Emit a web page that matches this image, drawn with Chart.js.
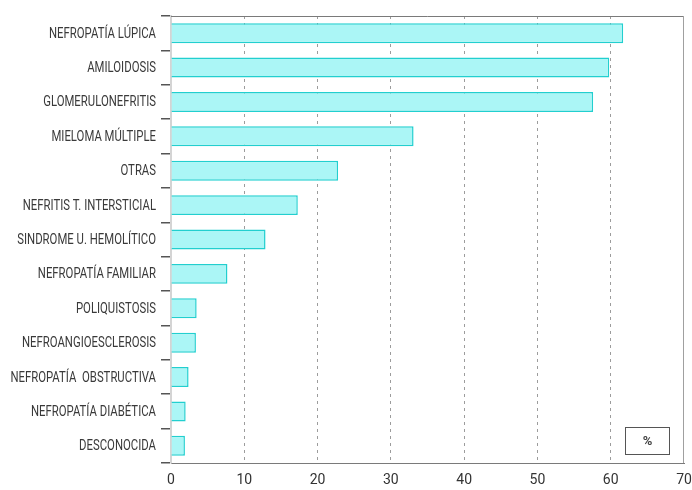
<!DOCTYPE html>
<html>
<head>
<meta charset="utf-8">
<script src="https://cdn.jsdelivr.net/npm/chart.js@4/dist/chart.umd.min.js"></script>
<style>
  html, body { margin: 0; padding: 0; background: #fff; }
  #wrap { width: 692px; height: 490px; }
</style>
</head>
<body>
<div id="wrap"><canvas id="causes-chart" width="692" height="490"></canvas></div>
<script>
// Chart data
const categories = [
  "NEFROPATÍA LÚPICA",
  "AMILOIDOSIS",
  "GLOMERULONEFRITIS",
  "MIELOMA MÚLTIPLE",
  "OTRAS",
  "NEFRITIS T. INTERSTICIAL",
  "SINDROME U. HEMOLÍTICO",
  "NEFROPATÍA FAMILIAR",
  "POLIQUISTOSIS",
  "NEFROANGIOESCLEROSIS",
  "NEFROPATÍA  OBSTRUCTIVA",
  "NEFROPATÍA DIABÉTICA",
  "DESCONOCIDA",
];
const percentValues = [61.7, 59.8, 57.6, 33.1, 22.8, 17.3, 12.9, 7.7, 3.5, 3.4, 2.4, 2.0, 1.9];
const xTicks = [0, 10, 20, 30, 40, 50, 60, 70];
const unitLabel = "%";

const labelFont = "14px Roboto, 'Liberation Sans', sans-serif";

// Draws y labels squeezed horizontally (the original uses a condensed face)
const condensedLabels = {
  id: "condensedLabels",
  afterDraw(chart) {
    const { ctx } = chart;
    const yScale = chart.scales.y;
    ctx.save();
    ctx.font = labelFont;
    const squeeze = 107 / ctx.measureText(categories[0]).width;
    ctx.fillStyle = "#3a3a3a";
    ctx.textAlign = "right";
    ctx.textBaseline = "middle";
    categories.forEach((label, i) => {
      const y = yScale.getPixelForTick(i);
      ctx.save();
      ctx.translate(156, y + 1);
      ctx.scale(squeeze, 1);
      ctx.fillText(label, 0, 0);
      ctx.restore();
    });
    ctx.restore();
  },
};

// Draws the frame (top + right) and the small "%" box
const framePlugin = {
  id: "frame",
  afterDraw(chart) {
    const { ctx, chartArea } = chart;
    ctx.save();
    ctx.lineWidth = 1;
    ctx.strokeStyle = "#7a7a7a";
    ctx.beginPath();
    ctx.moveTo(chartArea.left, chartArea.top + 0.5);
    ctx.lineTo(chartArea.right - 0.5, chartArea.top + 0.5);
    ctx.stroke();
    ctx.strokeStyle = "#a0a0a0";
    ctx.beginPath();
    ctx.moveTo(chartArea.right - 0.5, chartArea.top);
    ctx.lineTo(chartArea.right - 0.5, chartArea.bottom);
    ctx.stroke();

    // unit box
    ctx.strokeStyle = "#555";
    ctx.strokeRect(625.5, 427.5, 44, 27);
    ctx.fillStyle = "#444";
    ctx.font = "bold 13px Roboto, sans-serif";
    ctx.textAlign = "center";
    ctx.textBaseline = "middle";
    ctx.fillText(unitLabel, 647.5, 442);
    ctx.restore();
  },
};

const causesChart = new Chart(document.querySelector("#causes-chart"), {
  type: "bar",
  data: {
    labels: categories,
    datasets: [
      {
        data: percentValues,
        backgroundColor: "#abf6f6",
        borderColor: "#22cfcf",
        borderWidth: 1.5,
        barPercentage: 0.58,
        categoryPercentage: 1,
      },
    ],
  },
  options: {
    indexAxis: "y",
    responsive: false,
    animation: false,
    layout: { padding: { top: 16, right: 8, left: 0, bottom: 0 } },
    plugins: {
      legend: { display: false },
      tooltip: { enabled: false },
    },
    scales: {
      x: {
        min: 0,
        max: 70,
        afterBuildTicks: (scale) => {
          scale.ticks = xTicks.map((v) => ({ value: v }));
        },
        afterFit: (scale) => {
          scale.height = 27;
          scale.paddingRight = 0;
          scale.paddingLeft = 0;
        },
        border: { display: true, color: "#7a7a7a", width: 1, dash: [3, 4] },
        grid: {
          color: (c) =>
            c.tick && (c.tick.value === 0 || c.tick.value === 70) ? "rgba(0,0,0,0)" : "#9c9c9c",
          lineWidth: 1,
          drawTicks: false,
        },
        ticks: {
          color: "#333",
          padding: 9,
          font: { family: "Roboto, sans-serif", size: 14 },
          maxRotation: 0,
        },
      },
      y: {
        offset: true,
        afterFit: (scale) => {
          scale.width = 171;
        },
        border: { display: true, color: "#d4d4d4", width: 2 },
        grid: {
          offset: true,
          drawOnChartArea: false,
          drawTicks: true,
          tickLength: 10,
          color: "#555",
          lineWidth: 1.5,
        },
        ticks: { display: false },
      },
    },
  },
  plugins: [condensedLabels, framePlugin],
});
</script>
</body>
</html>
